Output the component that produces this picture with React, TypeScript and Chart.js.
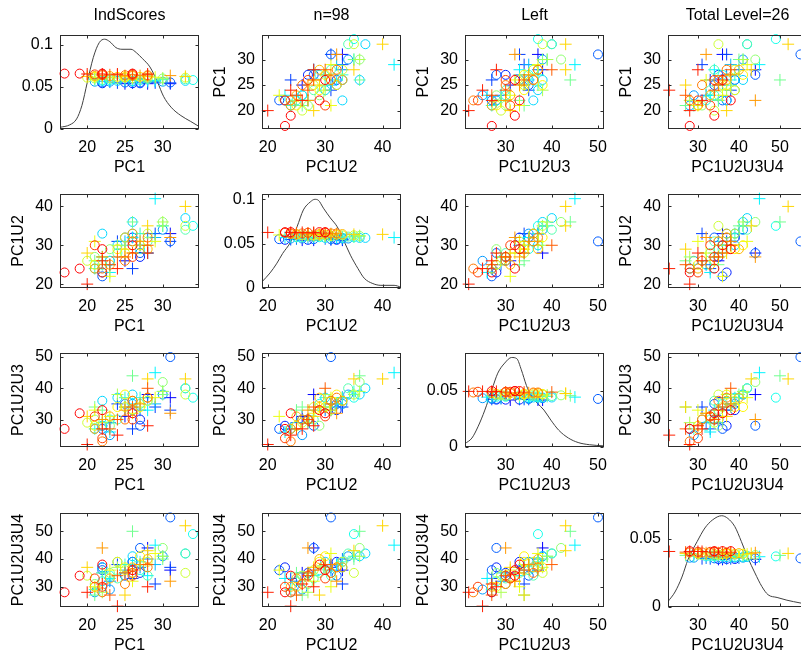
import { useEffect, useRef } from 'react';
import { Chart, registerables } from 'chart.js';

Chart.register(...registerables);

const FONT_FAMILY = '"Liberation Sans", Arial, Helvetica, sans-serif';

const VARIABLE_NAMES = ['PC1', 'PC1U2', 'PC1U2U3', 'PC1U2U3U4'];
const COLUMN_TITLES = ['IndScores', 'n=98', 'Left', 'Total Level=26'];
const GROUP_COUNT = 26;

// group index (0..25) of every individual; even groups are circles, odd groups crosses
const GROUP = [
  0, 0, 0, 0, 1, 1, 1, 1, 2, 2, 2, 3, 3, 3, 3, 4, 4, 4, 4, 5, 5, 5, 5, 6, 6, 6, 6,
  7, 7, 7, 7, 8, 8, 8, 8, 9, 9, 9, 9, 10, 10, 10, 10, 11, 11, 11, 11, 12, 12, 12, 12,
  13, 13, 13, 13, 14, 14, 14, 15, 15, 15, 15, 16, 16, 16, 16, 17, 17, 17, 17,
  18, 18, 18, 18, 19, 19, 19, 20, 20, 20, 20, 21, 21, 21, 22, 22, 22, 22,
  23, 23, 23, 23, 24, 24, 24, 25, 25, 25,
];

const PC1 = [
  17, 19, 22, 26, 20, 24, 28, 22, 22, 26, 21, 26, 28, 24, 23, 22, 26, 28, 25, 31, 25, 22, 27, 26, 28, 23, 21,
  33, 20, 28, 25, 25, 27, 21, 24, 21, 26, 29, 23, 33, 20, 28, 25, 27, 22, 30, 24, 30, 26, 21, 23,
  26, 30, 22, 21, 33, 28, 24, 30, 25, 21, 27, 34, 22, 27, 23, 29, 28, 23, 26,
  33, 22, 26, 24, 22, 29, 25, 30, 23, 26, 21, 27, 23, 28, 31, 22, 27, 25,
  31, 24, 29, 26, 27, 22, 26, 28, 31, 25,
];

const PC1U2 = [
  23, 24, 29, 30, 20, 24, 28, 26, 23, 27, 30, 28, 30, 27, 25, 24, 31, 32, 26, 32, 27, 27, 31, 33, 29, 25, 24,
  40, 28, 35, 29, 32, 30, 25, 29, 31, 28, 31, 22, 35, 26, 33, 28, 30, 27, 36, 30, 36, 31, 27, 29,
  36, 35, 25, 26, 34, 31, 28, 35, 30, 24, 33, 35, 25, 29, 26, 42, 28, 23, 32,
  37, 33, 36, 30, 27, 32, 31, 34, 26, 33, 24, 30, 25, 33, 31, 22, 28, 32,
  31, 31, 33, 24, 27, 23, 32, 28, 33, 26,
];

const PC1U2U3 = [
  27, 32, 33, 32, 22, 25, 28, 27, 24, 30, 31, 34, 40, 30, 27, 23, 36, 37, 30, 32, 33, 30, 35, 36, 37, 31, 27,
  43, 31, 43, 34, 38, 34, 28, 34, 33, 32, 37, 31, 38, 29, 36, 34, 34, 29, 39, 38, 42, 33, 30, 28,
  44, 38, 33, 34, 40, 36, 30, 39, 37, 27, 37, 37, 28, 35, 30, 45, 33, 26, 35,
  40, 36, 38, 37, 29, 35, 34, 38, 25, 35, 27, 33, 29, 37, 50, 27, 28, 35,
  33, 35, 34, 27, 30, 28, 33, 38, 37, 31,
];

const PC1U2U3U4 = [
  28, 34, 38, 36, 28, 23, 30, 31, 30, 34, 33, 36, 38, 34, 27, 28, 35, 37, 31, 32, 35, 44, 38, 37, 40, 33, 30,
  52, 37, 43, 27, 37, 41, 30, 39, 30, 32, 42, 36, 35, 34, 39, 36, 38, 28, 41, 37, 44, 35, 31, 35,
  50, 40, 35, 27, 42, 34, 33, 41, 38, 29, 39, 49, 32, 36, 34, 45, 34, 33, 38,
  42, 37, 41, 39, 35, 38, 36, 41, 29, 39, 28, 37, 32, 40, 55, 36, 44, 34,
  37, 38, 31, 33, 35, 37, 39, 44, 36, 35,
];

const VALUES = [PC1, PC1U2, PC1U2U3, PC1U2U3U4];

// axis limits and tick marks for each variable
const AXIS_RANGES = [
  [16.4, 34.8],
  [19.0, 43.2],
  [21.2, 51.3],
  [22.7, 56.6],
];
const AXIS_TICKS = [
  [20, 25, 30],
  [20, 30, 40],
  [30, 40, 50],
  [30, 40, 50],
];

// kernel density estimates shown on the diagonal
const DENSITY_X_PC1 = [16.4, 17.7, 18.6, 19.3, 20.0, 20.8, 21.6, 22.3, 23.0, 23.8, 24.6, 25.8, 26.5, 27.3, 28.3, 29.3, 30.1, 31.1, 32.4, 33.7, 34.8];
const DENSITY_PC1 = [0.002, 0.005, 0.012, 0.028, 0.055, 0.085, 0.103, 0.107, 0.104, 0.097, 0.095, 0.095, 0.091, 0.084, 0.074, 0.056, 0.039, 0.026, 0.016, 0.009, 0.003];

const DENSITY_X_PC1U2 = [19.0, 20.4, 21.6, 22.6, 23.9, 25.1, 26.2, 27.4, 28.2, 28.8, 29.7, 30.9, 32.1, 33.2, 34.4, 35.7, 36.8, 38.3, 39.7, 42.0, 43.2];
const DENSITY_PC1U2 = [0.007, 0.017, 0.028, 0.039, 0.051, 0.069, 0.088, 0.097, 0.100, 0.099, 0.090, 0.079, 0.069, 0.054, 0.037, 0.022, 0.011, 0.005, 0.003, 0.003, 0.001];

const DENSITY_X_PC1U2U3 = [21.2, 22.7, 24.0, 25.5, 27.0, 28.3, 29.8, 31.3, 32.4, 33.4, 34.5, 35.6, 36.9, 38.3, 39.8, 41.5, 43.6, 45.7, 48.2, 51.3];
const DENSITY_PC1U2U3 = [0.003, 0.008, 0.018, 0.033, 0.051, 0.066, 0.075, 0.080, 0.079, 0.069, 0.055, 0.045, 0.039, 0.033, 0.024, 0.015, 0.008, 0.004, 0.002, 0.001];

const DENSITY_X_PC1U2U3U4 = [22.7, 24.4, 26.1, 27.6, 29.8, 31.7, 33.6, 35.8, 37.3, 39.0, 40.6, 42.2, 43.9, 45.6, 47.1, 49.3, 51.7, 54.9, 56.6];
const DENSITY_PC1U2U3U4 = [0.004, 0.011, 0.022, 0.035, 0.048, 0.058, 0.064, 0.067, 0.065, 0.059, 0.048, 0.036, 0.025, 0.015, 0.009, 0.007, 0.005, 0.003, 0.002];

const DENSITY_X = [DENSITY_X_PC1, DENSITY_X_PC1U2, DENSITY_X_PC1U2U3, DENSITY_X_PC1U2U3U4];
const DENSITY_Y = [DENSITY_PC1, DENSITY_PC1U2, DENSITY_PC1U2U3, DENSITY_PC1U2U3U4];
const DENSITY_MAX = [0.112, 0.106, 0.084, 0.069];
const DENSITY_TICKS = [
  [0, 0.05, 0.1],
  [0, 0.05, 0.1],
  [0, 0.05],
  [0, 0.05],
];
// heights of the group strip on each diagonal panel (first group on top)
const STRIP_TOP = [0.066, 0.063, 0.05, 0.041];
const STRIP_BOTTOM = [0.054, 0.054, 0.042, 0.035];

// page layout of the plot areas
const PLOT_LEFT = [60, 262, 465, 668];
const PLOT_TOP = [35, 194, 353, 513];
const PLOT_W = 139;
const PLOT_H = 94;
const Y_AXIS_W = 60;
const X_AXIS_H = 50;
const RIGHT_PAD = 20;
const TOP_SPACE = 35;
const CELL_W = Y_AXIS_W + PLOT_W + RIGHT_PAD;
const CELL_H = TOP_SPACE + PLOT_H + X_AXIS_H;

const FRAME_COLOR = '#2b2b2b';
const TEXT_COLOR = '#000';

// red -> yellow -> cyan -> blue, evenly split over the groups
function groupColor(g: number) {
  const t = (3 * g) / (GROUP_COUNT - 1);
  let r = 0;
  let gr = 0;
  let b = 0;
  if (t <= 1) {
    r = 1;
    gr = t;
    b = 0;
  } else if (t <= 2) {
    r = 2 - t;
    gr = 1;
    b = t - 1;
  } else {
    r = 0;
    gr = 3 - t;
    b = 1;
  }
  return `rgb(${Math.round(r * 255)}, ${Math.round(gr * 255)}, ${Math.round(b * 255)})`;
}

function stripY(panel: number, g: number) {
  return STRIP_TOP[panel] - ((STRIP_TOP[panel] - STRIP_BOTTOM[panel]) * g) / (GROUP_COUNT - 1);
}

// box around the plot area with short inward tick marks on all four sides
const frameTicks = {
  id: 'frameTicks',
  afterDraw(chart: any) {
    const { ctx, chartArea: a, scales } = chart;
    const L = Math.round(a.left) + 0.5;
    const R = Math.round(a.right) - 0.5;
    const T = Math.round(a.top) + 0.5;
    const B = Math.round(a.bottom) - 0.5;
    const len = 3;
    ctx.save();
    ctx.strokeStyle = FRAME_COLOR;
    ctx.lineWidth = 1;
    ctx.strokeRect(L, T, R - L, B - T);
    ctx.beginPath();
    for (const t of scales.x.ticks) {
      const px = Math.round(scales.x.getPixelForValue(t.value)) + 0.5;
      ctx.moveTo(px, B);
      ctx.lineTo(px, B - len);
      ctx.moveTo(px, T);
      ctx.lineTo(px, T + len);
    }
    for (const t of scales.y.ticks) {
      const py = Math.round(scales.y.getPixelForValue(t.value)) + 0.5;
      ctx.moveTo(L, py);
      ctx.lineTo(L + len, py);
      ctx.moveTo(R, py);
      ctx.lineTo(R - len, py);
    }
    ctx.stroke();
    ctx.restore();
  },
};

function Panel({ row, col }: { row: number; col: number }) {
  const ref = useRef<HTMLCanvasElement | null>(null);

  useEffect(() => {
    if (!ref.current) return;
    const isDiag = row === col;
    const xs = VALUES[col];
    const ys = VALUES[row];

    const datasets: any[] = [];
    for (let g = 0; g < GROUP_COUNT; g++) {
      const pts: { x: number; y: number }[] = [];
      GROUP.forEach((gg, i) => {
        if (gg === g) pts.push({ x: xs[i], y: isDiag ? stripY(row, g) : ys[i] });
      });
      const cross = g % 2 === 1;
      const c = groupColor(g);
      datasets.push({
        data: pts,
        pointStyle: cross ? 'cross' : 'circle',
        pointRadius: cross ? 6 : 4.5,
        pointBorderColor: c,
        borderColor: c,
        pointBackgroundColor: 'rgba(0,0,0,0)',
        backgroundColor: 'rgba(0,0,0,0)',
        pointBorderWidth: 1,
        showLine: false,
        clip: false,
      });
    }
    if (isDiag) {
      datasets.push({
        data: DENSITY_X[row].map((x, i) => ({ x, y: DENSITY_Y[row][i] })),
        showLine: true,
        borderColor: '#404040',
        borderWidth: 1,
        pointRadius: 0,
        cubicInterpolationMode: 'monotone',
        fill: false,
      });
    }

    const tickFont = { family: FONT_FAMILY, size: 16 };
    const titleFont = { family: FONT_FAMILY, size: 16, lineHeight: 1.2 };

    const chart = new Chart(ref.current, {
      type: 'scatter',
      data: { datasets },
      plugins: [frameTicks],
      options: {
        animation: false,
        responsive: false,
        devicePixelRatio: 1,
        events: [],
        layout: {
          padding: { left: 0, right: RIGHT_PAD, top: 0, bottom: 0 },
        },
        plugins: {
          legend: { display: false },
          tooltip: { enabled: false },
        },
        scales: {
          x: {
            type: 'linear',
            min: AXIS_RANGES[col][0],
            max: AXIS_RANGES[col][1],
            grid: { display: false, drawTicks: false },
            border: { display: false },
            ticks: {
              font: tickFont,
              color: TEXT_COLOR,
              padding: 9,
              maxRotation: 0,
              autoSkip: false,
              callback: (v: any) => String(v),
            },
            title: {
              display: true,
              text: VARIABLE_NAMES[col],
              color: TEXT_COLOR,
              font: titleFont,
              padding: { top: 0, bottom: 2 },
            },
            afterBuildTicks: (s: any) => {
              s.ticks = AXIS_TICKS[col].map((v) => ({ value: v }));
            },
            afterFit: (s: any) => {
              s.height = X_AXIS_H;
              s.paddingLeft = 0;
              s.paddingRight = 0;
            },
          },
          // space above the plot; the top row carries the column heading, centred over the plot
          xTop: {
            type: 'linear',
            position: 'top',
            display: true,
            min: 0,
            max: 1,
            grid: { display: false, drawTicks: false },
            border: { display: false },
            ticks: { display: false },
            title: {
              display: row === 0,
              text: COLUMN_TITLES[col],
              color: TEXT_COLOR,
              font: titleFont,
              padding: { top: 6.4, bottom: 0 },
            },
            afterFit: (s: any) => {
              s.height = TOP_SPACE;
              s.paddingLeft = 0;
              s.paddingRight = 0;
            },
          },
          y: {
            type: 'linear',
            min: isDiag ? 0 : AXIS_RANGES[row][0],
            max: isDiag ? DENSITY_MAX[row] : AXIS_RANGES[row][1],
            grid: { display: false, drawTicks: false },
            border: { display: false },
            ticks: {
              font: tickFont,
              color: TEXT_COLOR,
              padding: 7,
              autoSkip: false,
              callback: (v: any) => String(v),
            },
            title: {
              display: !isDiag,
              text: VARIABLE_NAMES[row],
              color: TEXT_COLOR,
              font: titleFont,
              padding: { top: 9.4, bottom: 0 },
            },
            afterBuildTicks: (s: any) => {
              const t = isDiag ? DENSITY_TICKS[row] : AXIS_TICKS[row];
              s.ticks = t.map((v) => ({ value: v }));
            },
            afterFit: (s: any) => {
              s.width = Y_AXIS_W;
              s.paddingTop = 0;
              s.paddingBottom = 0;
            },
          },
        },
      } as any,
    });
    return () => chart.destroy();
  }, [row, col]);

  return (
    <canvas
      ref={ref}
      width={CELL_W}
      height={CELL_H}
      style={{
        position: 'absolute',
        left: PLOT_LEFT[col] - Y_AXIS_W,
        top: PLOT_TOP[row] - TOP_SPACE,
        width: CELL_W,
        height: CELL_H,
      }}
    />
  );
}

export default function App() {
  const cells = [];
  for (let r = 0; r < 4; r++) {
    for (let c = 0; c < 4; c++) {
      cells.push(<Panel key={`${r}-${c}`} row={r} col={c} />);
    }
  }
  return (
    <div
      style={{
        position: 'absolute',
        left: 0,
        top: 0,
        width: 801,
        height: 655,
        overflow: 'hidden',
        background: '#fff',
      }}
    >
      {cells}
    </div>
  );
}
